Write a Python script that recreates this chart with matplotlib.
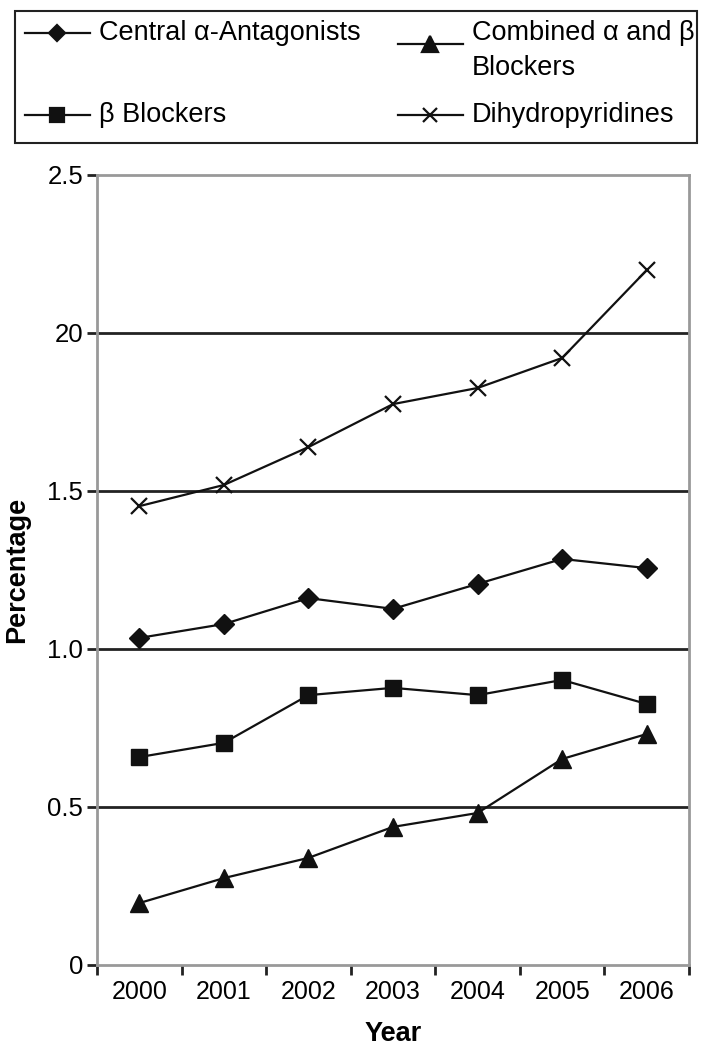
import matplotlib.pyplot as plt
from matplotlib.lines import Line2D
from matplotlib.patches import Rectangle

plt.rcParams['font.family'] = ['Liberation Sans', 'DejaVu Sans']

years = ['2000', '2001', '2002', '2003', '2004', '2005', '2006']
central = [1.035, 1.079, 1.161, 1.127, 1.206, 1.285, 1.256]
beta = [0.658, 0.703, 0.854, 0.877, 0.854, 0.902, 0.826]
combined = [0.196, 0.275, 0.339, 0.437, 0.481, 0.652, 0.731]
dihydro = [1.452, 1.519, 1.639, 1.775, 1.826, 1.921, 2.199]

y_ticks = [0, 0.5, 1.0, 1.5, 2.0, 2.5]
y_tick_labels = ['0', '0.5', '1.0', '1.5', '20', '2.5']

W, H = 714, 1049
fig = plt.figure(figsize=(W / 100, H / 100), dpi=100)
ax = fig.add_axes([97 / W, 1 - 965 / H, (689 - 97) / W, (965 - 175) / H])

x = list(range(len(years)))
style = dict(color='#111111', lw=1.6)
ax.plot(x, central, marker='D', ms=10, **style)
ax.plot(x, beta, marker='s', ms=12, **style)
ax.plot(x, combined, marker='^', ms=13, **style)
ax.plot(x, dihydro, marker='x', ms=12, mew=1.6, **style)

ax.set_xlim(-0.5, len(years) - 0.5)
ax.set_ylim(0, 2.5)
for yv in y_ticks[1:-1]:
    ax.axhline(yv, color='#222222', lw=2, zorder=0)

ax.set_yticks(y_ticks)
ax.set_yticklabels(y_tick_labels, fontsize=18.5)
ax.set_xticks(x)
ax.set_xticklabels(years, fontsize=18)
ax.set_xticks([i + 0.5 for i in range(-1, len(years))], minor=True)
ax.tick_params(axis='x', which='major', length=0, pad=11)
ax.tick_params(axis='x', which='minor', length=7, width=2, color='#222222')
ax.tick_params(axis='y', length=7, width=2, color='#222222', pad=3)
for s in ax.spines.values():
    s.set_color('#999999')
    s.set_linewidth(2)

ax.set_xlabel('Year', fontsize=19.5, fontweight='bold', labelpad=12)
ax.set_ylabel('Percentage', fontsize=19.5, fontweight='bold', labelpad=12)

# legend box drawn by hand (multi-line label sits in the second column)
fig.add_artist(Rectangle((15 / W, 1 - 143 / H), (697 - 15) / W, (143 - 11) / H,
                         transform=fig.transFigure, fill=False, ec='#222222', lw=1.5))
legend_rows = [
    ('D', 8, 25, 33, 33, 'Central α-Antagonists'),
    ('^', 11, 398, 44, 33, 'Combined α and β\nBlockers'),
    ('s', 10, 25, 115, 115, 'β Blockers'),
    ('x', 10, 398, 115, 115, 'Dihydropyridines'),
]
for mk, ms, lx, ly, ty, label in legend_rows:
    fig.add_artist(Line2D([lx / W, (lx + 65) / W], [1 - ly / H, 1 - ly / H],
                          transform=fig.transFigure, color='#111111', lw=1.6))
    fig.add_artist(Line2D([(lx + 32) / W], [1 - ly / H], transform=fig.transFigure,
                          marker=mk, ms=ms, mew=1.6, color='#111111', lw=0))
    fig.text((lx + 74) / W, 1 - (ty - 13) / H, label, fontsize=19.5, va='top',
             linespacing=1.45)

fig.savefig('out.png', dpi=100)
